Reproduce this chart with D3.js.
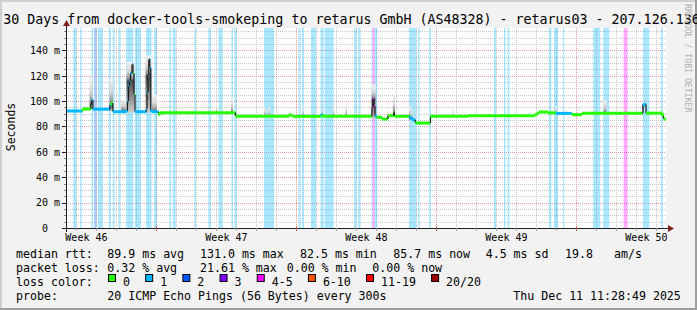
<!DOCTYPE html>
<html>
<head>
<meta charset="utf-8">
<script src="https://cdn.jsdelivr.net/npm/d3@7"></script>
<style>
  body { margin: 0; background: #f2f2f2; }
  svg { display: block; }
  text { font-family: "DejaVu Sans Mono", monospace; fill: #000; }
</style>
</head>
<body>
<svg id="chart" width="697" height="310"></svg>
<script>
/* smokeping 30 day graph */
const startTime = new Date("2025-11-11T11:28:49Z");
const endTime = new Date("2025-12-11T11:28:49Z");
const dayMs = 864e5;

const titleText = "30 Days from docker-tools-smokeping to retarus GmbH (AS48328) - retarus03 - 207.126.136";
const yTickValues = [0, 20, 40, 60, 80, 100, 120, 140];

// median rtt, step values: day offset from start, ms
const medianDays = [0.000, 0.835, 1.250, 1.285, 1.350, 2.200, 2.275, 2.350, 3.025, 3.075,
  3.125, 3.175, 3.225, 3.300, 3.350, 3.400, 3.450, 4.015, 4.050, 4.100,
  4.140, 4.190, 4.240, 4.275, 4.625, 4.675, 8.475, 11.150, 11.325, 12.775,
  12.825, 15.300, 15.340, 15.400, 15.450, 15.550, 15.800, 16.100, 16.385, 16.425,
  17.200, 17.300, 17.465, 18.225, 20.100, 23.450, 23.550, 23.650, 24.100, 24.500,
  25.300, 25.800, 28.850, 29.000, 29.825, 29.875];
const medianMs = [92.2, 93.8, 97.0, 100.8, 93.6, 97.0, 98.5, 91.6, 92.5, 100,
  112, 116, 122, 129, 122, 105, 91.6, 94, 107, 120,
  133, 126, 93, 91.6, 89.0, 90.9, 88.0, 89.0, 88.0, 89.5,
  88.0, 95, 101.5, 96, 88.0, 87.2, 85.9, 88.5, 91, 88.0,
  86.7, 85.3, 82.7, 88.0, 88.5, 89.5, 90.7, 91.4, 90.8, 90.3,
  89.3, 90.4, 97.3, 90.5, 88.3, 85.8];

// packet loss periods: start day, end day, lost pings of 20
const lossStart = [0.365, 0.71, 1.275, 1.41, 1.60, 2.14, 2.34, 2.625, 3.01, 3.45,
  4.00, 4.41, 5.17, 5.34, 6.42, 7.12, 7.625, 8.275, 8.425, 9.90,
  11.63, 11.80, 12.25, 12.73, 12.93, 14.41, 14.61, 15.28, 15.32, 15.43,
  17.15, 17.61, 18.16, 21.40, 21.90, 22.08, 24.15, 24.40, 24.85, 26.36,
  26.86, 27.88, 28.85, 29.75];
const lossEnd = [0.525, 0.785, 1.36, 1.53, 1.85, 2.24, 2.425, 2.725, 3.365, 3.75,
  4.28, 4.55, 5.26, 5.485, 6.50, 7.25, 7.84, 8.35, 8.53, 10.40,
  11.73, 11.90, 12.50, 12.88, 13.38, 14.53, 14.73, 15.32, 15.43, 15.56,
  17.52, 17.68, 18.25, 21.50, 21.98, 22.17, 24.27, 24.60, 24.91, 26.71,
  27.16, 28.08, 29.17, 29.84];
const lossCount = [1, 1, 1, 2, 1, 1, 1, 1, 1, 1,
  1, 1, 1, 1, 1, 1, 1, 1, 1, 1,
  1, 1, 1, 1, 1, 1, 1, 1, 4, 1,
  1, 1, 1, 1, 1, 1, 1, 1, 1, 1,
  1, 4, 1, 1];

// smoke (ping spread): start day, end day, highest ms, lowest ms
const smokeStart = [0.85, 1.175, 2.175, 2.75, 3.025, 3.975, 4.30, 7.10, 7.325, 7.50,
  7.675, 8.25, 9.90, 10.10, 11.15, 11.825, 12.775, 13.35, 13.975, 14.675,
  15.275, 15.625, 16.075, 16.35, 17.15, 17.30, 19.325, 20.10, 24.475, 25.00,
  26.375, 26.875, 28.825];
const smokeEnd = [1.15, 1.325, 2.35, 3.0, 3.425, 4.25, 4.55, 7.15, 7.375, 7.55,
  7.725, 8.35, 10.0, 10.20, 11.20, 11.875, 12.825, 13.40, 14.05, 14.725,
  15.475, 15.675, 16.125, 16.45, 17.25, 17.35, 19.375, 20.15, 24.55, 25.05,
  26.425, 27.025, 28.875];
const smokeHi = [96, 119, 118, 101, 131, 136, 105, 93.5, 93, 97.5,
  93.5, 102, 95, 95, 92, 96.5, 94, 96, 98, 92.5,
  113, 89.5, 92, 105, 96, 94, 94, 89.5, 95.8, 92,
  93.5, 100.5, 98];
const smokeLo = [93, 94, 92, 92, 91, 91, 91, 90, 90.5, 90.5,
  90.5, 90, 88, 88, 88, 88, 88, 88, 88, 88,
  86, 86.5, 86, 88, 85, 85, 88, 87.5, 90, 89.5,
  90, 89, 90];

const lossLabels = ["0", "1", "2", "3", "4-5", "6-10", "11-19", "20/20"];
const lossUpper = [0, 1, 2, 3, 5, 10, 19, 20];
const lossColors = ["#26ff00", "#00b8ff", "#0059ff", "#7e00ff", "#ff00ff", "#ff5500", "#ff0000", "#a10000"];

const rttLabel = "median rtt:";
const rttStats = ["89.9 ms avg", "131.0 ms max", "82.5 ms min", "85.7 ms now", "4.5 ms sd", "19.8", "am/s"];
const lossLabel = "packet loss:";
const lossStats = ["0.32 % avg", "21.61 % max", "0.00 % min", "0.00 % now"];
const probeText = "20 ICMP Echo Pings (56 Bytes) every 300s";
const stampText = "Thu Dec 11 11:28:49 2025";

/* setup */
const W = 697, H = 310;
const svg = d3.select("#chart");
const atDay = d => new Date(startTime.getTime() + d * dayMs);
const x = d3.scaleUtc().domain([startTime, endTime]).range([66, 666]);
const y = d3.scaleLinear().domain([0, 157.6]).range([228, 28]);
const bucket = n => lossUpper.findIndex(u => n <= u);

function lossAt(d) {
  for (let i = 0; i < lossStart.length; i++) {
    if (d >= lossStart[i] && d < lossEnd[i]) return lossCount[i];
  }
  return 0;
}
function medianAt(d) {
  let v = medianMs[0];
  for (let i = 0; i < medianDays.length; i++) if (medianDays[i] <= d) v = medianMs[i];
  return v;
}

// background + 3d frame
svg.append("rect").attr("width", W).attr("height", H).attr("fill", "#f2f2f2");
svg.append("path").attr("d", `M0,0H${W}V2H2V${H}H0Z`).attr("fill", "#cfcfcf");
svg.append("path").attr("d", `M${W},${H}H0V${H - 2}H${W - 2}V0H${W}Z`).attr("fill", "#9e9e9e");
svg.append("rect").attr("x", 66).attr("y", 28).attr("width", 600).attr("height", 200).attr("fill", "#fff");

// grid
const grid = svg.append("g").attr("stroke-dasharray", "1,1").attr("stroke-width", 1);
const minorY = d3.range(5, 157, 5).filter(v => v % 20 !== 0);
const majorY = d3.range(20, 157, 20);
const days = d3.utcDay.range(startTime, endTime).filter(t => t.getUTCDay() !== 0);
const weeks = d3.utcSunday.range(startTime, endTime);

grid.selectAll(".hmin").data(minorY).join("line")
  .attr("x1", 66).attr("x2", 666)
  .attr("y1", d => Math.round(y(d)) + 0.5).attr("y2", d => Math.round(y(d)) + 0.5)
  .attr("stroke", "#c8c8c8");
grid.selectAll(".vmin").data(days).join("line")
  .attr("x1", d => Math.round(x(d)) + 0.5).attr("x2", d => Math.round(x(d)) + 0.5)
  .attr("y1", 28).attr("y2", 228)
  .attr("stroke", "#c8c8c8");
grid.selectAll(".hmaj").data(majorY).join("line")
  .attr("x1", 66).attr("x2", 666)
  .attr("y1", d => Math.round(y(d)) + 0.5).attr("y2", d => Math.round(y(d)) + 0.5)
  .attr("stroke", "#eb9a9a");
grid.selectAll(".vmaj").data(weeks).join("line")
  .attr("x1", d => Math.round(x(d)) + 0.5).attr("x2", d => Math.round(x(d)) + 0.5)
  .attr("y1", 28).attr("y2", 228)
  .attr("stroke", "#eb9a9a");

// loss bars, full height
svg.append("g").selectAll("rect").data(d3.range(lossStart.length)).join("rect")
  .attr("x", i => x(atDay(lossStart[i])))
  .attr("width", i => x(atDay(lossEnd[i])) - x(atDay(lossStart[i])))
  .attr("y", 28).attr("height", 200)
  .attr("fill", i => lossColors[bucket(lossCount[i])])
  .attr("fill-opacity", 0.33);

// smoke
const defs = svg.append("defs");
const smokeG = svg.append("g");
d3.range(smokeStart.length).forEach(i => {
  const med = medianAt((smokeStart[i] + smokeEnd[i]) / 2);
  const top = y(smokeHi[i]), bot = y(smokeLo[i]);
  const m = Math.max(0, Math.min(1, (y(med) - top) / (bot - top)));
  const g = defs.append("linearGradient").attr("id", "smk" + i)
    .attr("x1", 0).attr("y1", 0).attr("x2", 0).attr("y2", 1);
  g.append("stop").attr("offset", 0).attr("stop-color", "#f2f2f2");
  g.append("stop").attr("offset", m * 0.55).attr("stop-color", "#d2d2d2");
  g.append("stop").attr("offset", m * 0.9).attr("stop-color", "#8a8a8a");
  g.append("stop").attr("offset", m).attr("stop-color", "#4a4a4a");
  g.append("stop").attr("offset", 1).attr("stop-color", "#cccccc");
  smokeG.append("rect")
    .attr("x", x(atDay(smokeStart[i])))
    .attr("width", x(atDay(smokeEnd[i])) - x(atDay(smokeStart[i])))
    .attr("y", top).attr("height", bot - top)
    .attr("fill", `url(#smk${i})`);
});

// median line, coloured by loss
const medG = svg.append("g");
for (let i = 0; i < medianDays.length; i++) {
  const d0 = medianDays[i], d1 = i + 1 < medianDays.length ? medianDays[i + 1] : 30;
  const col = lossColors[bucket(lossAt((d0 + d1) / 2))];
  medG.append("line")
    .attr("x1", x(atDay(d0))).attr("x2", x(atDay(d1)))
    .attr("y1", y(medianMs[i])).attr("y2", y(medianMs[i]))
    .attr("stroke", col).attr("stroke-width", 3);
  if (i + 1 < medianDays.length) {
    const ya = y(medianMs[i]), yb = y(medianMs[i + 1]);
    const big = Math.abs(ya - yb) > 3;
    const nd = i + 2 < medianDays.length ? medianDays[i + 2] : 30;
    medG.append("line")
      .attr("x1", x(atDay(d1))).attr("x2", x(atDay(d1)))
      .attr("y1", ya).attr("y2", yb)
      .attr("stroke", big ? "#1a1a1a" : lossColors[bucket(lossAt((d1 + nd) / 2))])
      .attr("stroke-width", big ? 1.2 : 3);
  }
}

// axes
const axisCol = "#1f1f1f", arrowCol = "#801f1f";
svg.append("line").attr("x1", 62).attr("x2", 669).attr("y1", 228.5).attr("y2", 228.5).attr("stroke", axisCol);
svg.append("line").attr("x1", 66.5).attr("x2", 66.5).attr("y1", 232).attr("y2", 25).attr("stroke", axisCol);
svg.append("path").attr("d", "M668,225L674,228.5L668,232Z").attr("fill", arrowCol);
svg.append("path").attr("d", "M63,26L66.5,20L70,26Z").attr("fill", arrowCol);

// ticks
svg.append("g").selectAll("line").data(minorY).join("line")
  .attr("x1", 64).attr("x2", 66)
  .attr("y1", d => Math.round(y(d)) + 0.5).attr("y2", d => Math.round(y(d)) + 0.5)
  .attr("stroke", "#8c8c8c");
svg.append("g").selectAll("line").data(yTickValues).join("line")
  .attr("x1", 62).attr("x2", 66)
  .attr("y1", d => Math.round(y(d)) + 0.5).attr("y2", d => Math.round(y(d)) + 0.5)
  .attr("stroke", axisCol);
svg.append("g").selectAll("line").data(days).join("line")
  .attr("x1", d => Math.round(x(d)) + 0.5).attr("x2", d => Math.round(x(d)) + 0.5)
  .attr("y1", 228).attr("y2", 230.5)
  .attr("stroke", "#8c8c8c");
svg.append("g").selectAll("line").data(weeks).join("line")
  .attr("x1", d => Math.round(x(d)) + 0.5).attr("x2", d => Math.round(x(d)) + 0.5)
  .attr("y1", 226).attr("y2", 231)
  .attr("stroke", "#c06060");

// y labels
svg.append("g").selectAll("text").data(yTickValues).join("text")
  .attr("x", d => d === 0 ? 48 : 60)
  .attr("y", d => y(d) + 3.8)
  .attr("text-anchor", "end")
  .style("font-size", "10px")
  .text(d => d === 0 ? "0" : d + " m");

// week labels, centred in each week
const weekMid = d3.utcSunday.range(d3.utcSunday.floor(startTime), endTime)
  .map(t => new Date(t.getTime() + 3.5 * dayMs))
  .filter(t => t > startTime && t < endTime);
svg.append("g").selectAll("text").data(weekMid).join("text")
  .attr("x", d => x(d)).attr("y", 241)
  .attr("text-anchor", "middle")
  .style("font-size", "10px")
  .text(d => "Week " + d3.utcFormat("%V")(d));

// titles
svg.append("text").attr("x", 3.2).attr("y", 23.5).style("font-size", "13.3px").text(titleText);
svg.append("text").attr("transform", "translate(15,127) rotate(-90)")
  .attr("text-anchor", "middle").style("font-size", "11.5px").text("Seconds");
svg.append("text").attr("transform", "translate(684.5,4) rotate(90)")
  .style("font-size", "8.2px").style("fill", "#b0b0b0").text("RRDTOOL / TOBI OETIKER");

// legend
const lg = svg.append("g").style("font-size", "11.6px");
const rttX = [107.3, 200, 300, 393.3, 485.7, 565, 614];
lg.append("text").attr("x", 16).attr("y", 258).text(rttLabel);
rttStats.forEach((s, i) => lg.append("text").attr("x", rttX[i]).attr("y", 258).text(s));
const lossX = [107.3, 200, 286.7, 372.3];
lg.append("text").attr("x", 16).attr("y", 272).text(lossLabel);
lossStats.forEach((s, i) => lg.append("text").attr("x", lossX[i]).attr("y", 272).text(s));

lg.append("text").attr("x", 16).attr("y", 286).text("loss color:");
let bx = 108;
lossLabels.forEach((lab, i) => {
  lg.append("rect").attr("x", bx + 0.5).attr("y", 274.5).attr("width", 7).attr("height", 7)
    .attr("fill", lossColors[i]).attr("stroke", "#000");
  const t = lg.append("text").attr("x", bx + 15).attr("y", 286).text(lab);
  bx = bx + 15 + t.node().getComputedTextLength() + 15.2;
});

lg.append("text").attr("x", 16).attr("y", 300).text("probe:");
lg.append("text").attr("x", 107.3).attr("y", 300).text(probeText);
lg.append("text").attr("x", 513.3).attr("y", 300).text(stampText);
</script>
</body>
</html>
